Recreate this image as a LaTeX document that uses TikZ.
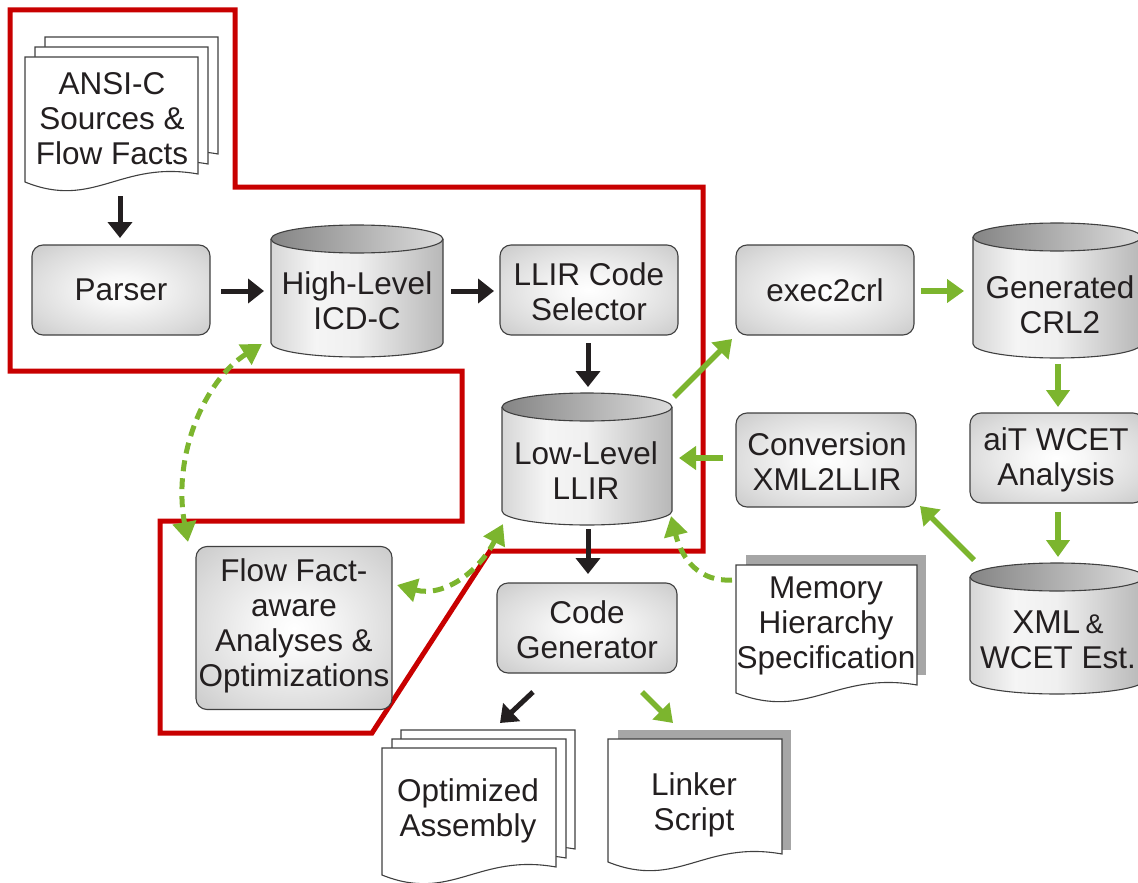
\documentclass[tikz,border=0pt]{standalone}
\usepackage{fontspec}
\setmainfont{Liberation Sans}
\usetikzlibrary{arrows.meta}
\definecolor{redline}{RGB}{200,0,0}
\definecolor{grn}{RGB}{124,181,46}
\definecolor{ink}{RGB}{35,31,32}
\pgfdeclareradialshading{boxshade}{\pgfpoint{0bp}{0bp}}{%
  color(0bp)=(white); color(8bp)=(white!97!black); color(26bp)=(black!14);
  color(40bp)=(black!24); color(50bp)=(black!31); color(72bp)=(black!40)}
\pgfdeclarehorizontalshading{cylshade}{100bp}{%
  color(0bp)=(black!16); color(25bp)=(black!16); color(38bp)=(black!4);
  color(50bp)=(black!6); color(75bp)=(black!28); color(100bp)=(black!28)}
\newcommand{\cylbody}[5]{%
  \shade[shading=cylshade]
    (#1-#4,#2) -- (#1-#4,#3) arc[start angle=180,end angle=360,x radius=#4pt,y radius=#5pt]
    -- (#1+#4,#2) arc[start angle=0,end angle=180,x radius=#4pt,y radius=#5pt] -- cycle;
  \draw[outl]
    (#1-#4,#2) -- (#1-#4,#3) arc[start angle=180,end angle=360,x radius=#4pt,y radius=#5pt]
    -- (#1+#4,#2);
  \shade[left color=black!48, right color=black!14] (#1,#2) ellipse[x radius=#4pt,y radius=#5pt];
  \draw[outl] (#1,#2) ellipse[x radius=#4pt,y radius=#5pt];
}
\newcommand{\docpage}[4]{% x1 y1 x2 yb
  \draw[outl, fill=white] (#1,#2) -- (#3,#2) -- (#3,#4-8)
    .. controls ({#3-0.45*(#3-#1)},#4-22) and ({#1+0.4*(#3-#1)},#4+28) .. (#1,#4) -- cycle;
}
\tikzset{
  outl/.style={draw=black!75, line width=1.1pt},
  box/.style={draw=black!75, line width=1.1pt, rounded corners=11pt, shading=boxshade, align=center},
  txt/.style={align=center, text=ink, font=\fontsize{31.5}{35}\selectfont},
  blk/.style={draw=ink, line width=5pt, -{Triangle[length=16pt,width=24pt]}},
  gsolid/.style={draw=grn, line width=5.5pt, -{Triangle[length=17pt,width=23pt]}},
  gdash/.style={draw=grn, line width=5pt, dash pattern=on 11pt off 7pt, {Triangle[length=20pt,width=23pt]}-{Triangle[length=20pt,width=23pt]}},
  gdash1/.style={draw=grn, line width=5pt, dash pattern=on 11pt off 7pt, -{Triangle[length=20pt,width=23pt]}},
}
\begin{document}
\begin{tikzpicture}[x=1pt,y=-1pt]
\useasboundingbox (0,0) rectangle (1138,883);
% red outline
\draw[redline, line width=5pt, line join=miter]
  (10,10) -- (235,10) -- (235,187) -- (703,187) -- (703,551) -- (490,551) -- (372,733)
  -- (160,733) -- (160,521) -- (462,521) -- (462,371) -- (10,371) -- cycle;
% ANSI-C documents
\docpage{45}{37}{218}{162}
\docpage{35}{47}{208}{172}
\docpage{25}{57}{198}{182}
\node[txt] (ansi) at (112,119) {ANSI-C\\Sources \&\\Flow Facts};
% boxes
\node[box, minimum width=178, minimum height=90] (parser) at (121,290) {};
\node[txt] at (parser) {Parser};
\node[box, minimum width=178, minimum height=90] (sel) at (589,290) {};
\node[txt] at (589,292) {LLIR Code\\Selector};
\node[box, minimum width=178, minimum height=90] (exec) at (825,290) {};
\node[txt] at (exec) {exec2crl};
\node[box, minimum width=180, minimum height=94] (conv) at (826,460) {};
\node[txt] at (827,462) {Conversion\\XML2LLIR};
\node[box, minimum width=174, minimum height=90] (ait) at (1057,458) {};
\node[txt] at (1056,460) {aiT WCET\\Analysis};
\node[box, minimum width=196, minimum height=163] (flow) at (294,628) {};
\node[txt] at (294,626) {Flow Fact-\\aware\\Analyses \&\\Optimizations};
\node[box, minimum width=180, minimum height=90] (cg) at (587,628) {};
\node[txt] at (587,630) {Code\\Generator};
% cylinders
\cylbody{357}{239}{343}{86}{14}
\node[minimum width=172, minimum height=135] (icd) at (357,291) {};
\node[txt] at (357,301) {High-Level\\ICD-C};
\cylbody{1057}{237}{344}{84}{14}
\node[minimum width=168, minimum height=135] (crl) at (1057,291) {};
\node[txt] at (1060,305) {Generated\\CRL2};
\cylbody{587}{407}{511}{85}{14}
\node[minimum width=170, minimum height=132] (low) at (587,459) {};
\node[txt] at (586,471) {Low-Level\\LLIR};
\cylbody{1057}{577}{680}{87}{14}
\node[minimum width=174, minimum height=132] (xml) at (1057,628) {};
\node[txt] at (1058,640) {{\fontsize{33}{35}\selectfont XML}\,{\fontsize{27}{35}\selectfont\&}\\WCET Est.};
% memory hierarchy document with shadow
\fill[black!35] (746,555) rectangle (926,675);
\docpage{736}{565}{917}{693}
\node[txt] (mem) at (826,626) {Memory\\Hierarchy\\Specification};
% optimized assembly
\docpage{401}{730}{575}{857}
\docpage{392}{739}{566}{866}
\docpage{382}{748}{556}{875}
\node[txt] (opt) at (468,811) {Optimized\\Assembly};
% linker script
\fill[black!35] (618,730) rectangle (791,850);
\docpage{608}{739}{782}{862}
\node[txt] (lnk) at (694,805) {Linker\\Script};
% connector endpoints
\coordinate (a1) at (120,196); \coordinate (a2) at (120,238);
\coordinate (b1) at (221,291); \coordinate (b2) at (264,291);
\coordinate (c1) at (451,291); \coordinate (c2) at (494,291);
\coordinate (d1) at (588,343); \coordinate (d2) at (588,387);
\coordinate (e1) at (588,529); \coordinate (e2) at (588,574);
\coordinate (f1) at (533,692); \coordinate (f2) at (500,723);
\coordinate (g1) at (642,692); \coordinate (g2) at (673,723);
\coordinate (h1) at (674,397); \coordinate (h2) at (732,339);
\coordinate (i1) at (921,291); \coordinate (i2) at (964,291);
\coordinate (j1) at (1058,364); \coordinate (j2) at (1058,407);
\coordinate (k1) at (1058,512); \coordinate (k2) at (1058,557);
\coordinate (l1) at (974,560); \coordinate (l2) at (920,506);
\coordinate (m1) at (723,458); \coordinate (m2) at (679,458);
\coordinate (n1) at (262,344); \coordinate (n2) at (188,542);
\coordinate (o1) at (397,585); \coordinate (o2) at (503,524);
\coordinate (p1) at (732,580); \coordinate (p2) at (671,516);
% black arrows
\draw[blk] (a1) -- (a2);
\draw[blk] (b1) -- (b2);
\draw[blk] (c1) -- (c2);
\draw[blk] (d1) -- (d2);
\draw[blk] (e1) -- (e2);
\draw[blk] (f1) -- (f2);
% green solid arrows
\draw[gsolid] (g1) -- (g2);
\draw[gsolid] (h1) -- (h2);
\draw[gsolid] (i1) -- (i2);
\draw[gsolid] (j1) -- (j2);
\draw[gsolid] (k1) -- (k2);
\draw[gsolid] (l1) -- (l2);
\draw[gsolid] (m1) -- (m2);
% green dashed arrows
\draw[gdash] (n1) .. controls (205,380) and (172,455) .. (n2);
\draw[gdash] (o1) .. controls (445,598) and (480,570) .. (o2);
\draw[gdash1] (p1) .. controls (700,582) and (682,560) .. (p2);
\end{tikzpicture}
\end{document}
